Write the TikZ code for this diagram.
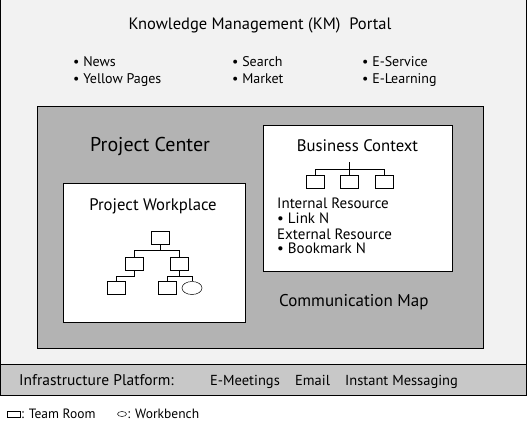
\documentclass[tikz,border=0pt]{standalone}
\usepackage{fontspec}
\setmainfont{PT Sans}
\usetikzlibrary{calc}
\usetikzlibrary{positioning}
\usetikzlibrary{shapes.geometric}
\definecolor{portalgray}{RGB}{242,242,242}
\definecolor{centergray}{RGB}{179,179,179}
\definecolor{infragray}{RGB}{200,200,200}
\tikzset{
  room/.style={draw, line width=0.8pt, minimum width=18pt, minimum height=13pt, inner sep=0pt},
  bench/.style={draw, ellipse, line width=0.5pt, minimum width=20pt, minimum height=13pt, inner sep=0pt},
  txt/.style={inner sep=0pt, anchor=base west, font=\fontsize{14}{16}\selectfont},
  branch/.style={line width=0.8pt}
}
\begin{document}
\begin{tikzpicture}[x=1pt, y=-1pt]
  \useasboundingbox (0,0) rectangle (528,421);

  % portal frame
  \fill [portalgray] (0,0) rectangle (527,364);
  \draw [line width=1pt] (0.5,0) -- (0.5,364) (526.5,0) -- (526.5,364);
  \node [txt, anchor=base] (portal) at (260,29) {\fontsize{16.5}{19}\selectfont Knowledge Management (KM)\ \ Portal};
  \node [txt] (news)   at (73,66)  {• News};
  \node [txt] (yellow) at (73,83)  {• Yellow Pages};
  \node [txt] (search) at (232,66) {• Search};
  \node [txt] (market) at (232,83) {• Market};
  \node [txt] (eserv)  at (362,66) {• E-Service};
  \node [txt] (elearn) at (362,83) {• E-Learning};

  % project center
  \draw [fill=centergray, line width=1pt] (37,106) rectangle (483,348);
  \node [txt, font=\fontsize{20}{23}\selectfont] (center) at (90,151) {Project Center};
  \node [txt] (commap) at (279,306) {\fontsize{17}{19}\selectfont Communication Map};

  % project workplace
  \draw [fill=white, line width=1pt] (63,183) rectangle (245,322);
  \node [txt, anchor=base] (workplace) at (153,210) {\fontsize{16.7}{19}\selectfont Project Workplace};
  \node [room] (wtop) at (160,237.5) {};
  \node [room] (wl)   at (134.5,263.5) {};
  \node [room] (wr)   at (179,263.5) {};
  \node [room] (wll)  at (116.5,288) {};
  \node [room] (wrl)  at (167,288) {};
  \node [bench] (wrr) at (192,288) {};
  \coordinate (wbar)  at (0,250);
  \coordinate (wbar2) at (0,276);
  \draw [branch] (wtop.south) -- (wtop.south |- wbar) (wl.north |- wbar) -- (wr.north |- wbar);
  \foreach \n in {wl,wr} \draw [branch] (\n.north |- wbar) -- (\n.north);
  \draw [branch] (wl.south) -- (wl.south |- wbar2) -- (wll.north |- wbar2) -- (wll.north);
  \draw [branch] (wr.south) -- (wr.south |- wbar2);
  \draw [branch] (wrl.north |- wbar2) -- (wrr.north |- wbar2);
  \foreach \n in {wrl,wrr} \draw [branch] (\n.north |- wbar2) -- (\n.north);

  % business context
  \draw [fill=white, line width=1pt] (263,125) rectangle (452,271);
  \node [txt, anchor=base] (business) at (357.5,151) {\fontsize{16.7}{19}\selectfont Business Context};
  \coordinate (bstem) at (349,162);
  \coordinate (bbar)  at (0,169);
  \node [room] (b1) at (315.5,181.5) {};
  \node [room] (b2) at (349.5,181.5) {};
  \node [room] (b3) at (384,181.5) {};
  \draw [branch] (bstem) -- (bstem |- bbar) (b1.north |- bbar) -- (b3.north |- bbar);
  \foreach \n in {b1,b2,b3} \draw [branch] (\n.north |- bbar) -- (\n.north);
  \node [txt, font=\fontsize{15}{17}\selectfont] (intres)  at (277,208) {Internal Resource};
  \node [txt, font=\fontsize{15}{17}\selectfont] (link)    at (277,223) {• Link N};
  \node [txt, font=\fontsize{15}{17}\selectfont] (extres)  at (277,239) {External Resource};
  \node [txt, font=\fontsize{15}{17}\selectfont] (bookm)   at (277,253) {• Bookmark N};

  % infrastructure platform
  \draw [fill=infragray, line width=1pt] (0.5,364) rectangle (526.5,395);
  \node [txt, font=\fontsize{15.5}{18}\selectfont] (infra) at (19,385) {Infrastructure Platform:};
  \node [txt, font=\fontsize{14.5}{17}\selectfont] (emeet) at (210,385) {E-Meetings};
  \node [txt, font=\fontsize{14.5}{17}\selectfont] (email) at (295,385) {Email};
  \node [txt, font=\fontsize{14.5}{17}\selectfont] (instm) at (345,385) {Instant Messaging};

  % legend
  \node [draw, line width=0.8pt, minimum width=13pt, minimum height=6pt, inner sep=0pt] (legroom) at (13.5,414) {};
  \node [txt, font=\fontsize{13.5}{15}\selectfont, right=0.5pt of legroom.east, anchor=west] (legroomtxt) {: Team Room};
  \node [draw, ellipse, line width=0.5pt, minimum width=9pt, minimum height=5pt, inner sep=0pt] (legbench) at (122,414) {};
  \node [txt, font=\fontsize{13.5}{15}\selectfont, right=0.5pt of legbench.east, anchor=west] (legbenchtxt) {: Workbench};
\end{tikzpicture}
\end{document}
